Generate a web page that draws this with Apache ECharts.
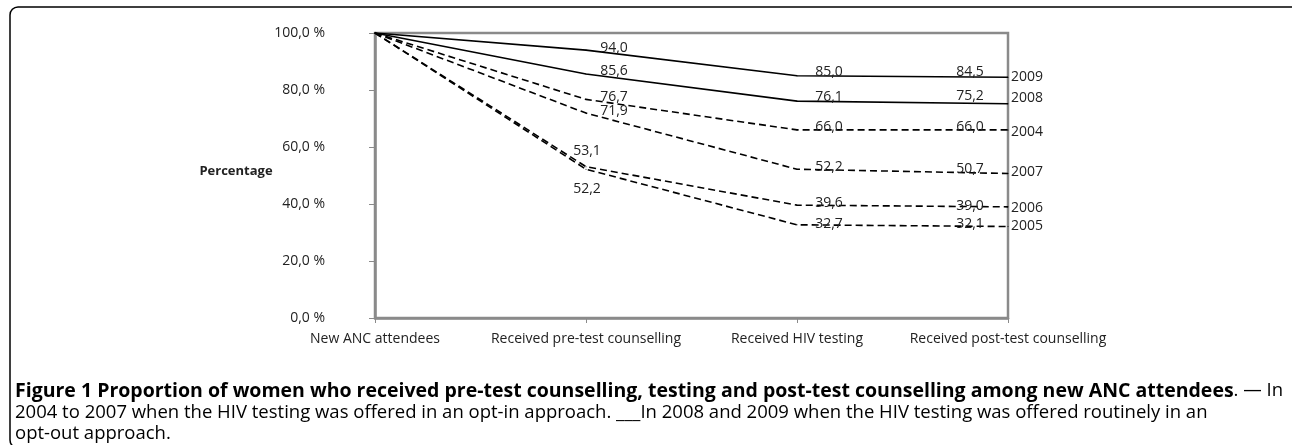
<!DOCTYPE html>
<html>
<head>
<meta charset="utf-8">
<script src="https://cdn.jsdelivr.net/npm/echarts@6/dist/echarts.min.js"></script>
<style>
html,body{margin:0;padding:0;background:#fff;}
#main{width:1292px;height:445px;}
</style>
</head>
<body>
<div id="main"></div>
<script>
// categories and values
var categories = ['New ANC attendees', 'Received pre-test counselling', 'Received HIV testing', 'Received post-test counselling'];
var years = ['2009', '2008', '2004', '2007', '2006', '2005'];
var v2009 = [100, 94.0, 85.0, 84.5];
var v2008 = [100, 85.6, 76.1, 75.2];
var v2004 = [100, 76.7, 66.0, 66.0];
var v2007 = [100, 71.9, 52.2, 50.7];
var v2006 = [100, 53.1, 39.6, 39.0];
var v2005 = [100, 52.2, 32.7, 32.1];
var yTicks = [0, 20, 40, 60, 80, 100];

// where the value labels sit relative to each point (px)
var labelOffsets = {
	'2009': [null, [28, -2], [32, -4], [-38, -5]],
	'2008': [null, [28, -3], [32, -4], [-38, -8]],
	'2004': [null, [28, -2], [32, -3], [-38, -3]],
	'2007': [null, [28, -2], [32, -2], [-38, -4]],
	'2006': [null, [1, -16], [32, -2], [-38, -1]],
	'2005': [null, [1, 20], [32, -1], [-38, -2]]
};
var endOffsets = {'2009': 0, '2008': -6, '2004': 2, '2007': -1, '2006': 1, '2005': 0};
var seriesValues = {'2009': v2009, '2008': v2008, '2004': v2004, '2007': v2007, '2006': v2006, '2005': v2005};
var solidYears = ['2009', '2008'];

function fmt(v){
	return v.toFixed(1).replace('.', ',');
}

var font = '"Open Sans", "DejaVu Sans", sans-serif';
var series = [];
for (var i = 0; i < years.length; i++){
	var y = years[i];
	var vals = seriesValues[y];
	var data = [];
	for (var j = 0; j < vals.length; j++){
		var off = labelOffsets[y][j];
		if (off == null){
			data.push({value: vals[j], label: {show: false}});
		}else{
			data.push({value: vals[j], label: {show: true, offset: off}});
		}
	}
	series.push({
		name: y,
		type: 'line',
		data: data,
		symbol: 'circle',
		symbolSize: 1,
		showSymbol: true,
		itemStyle: {color: '#000'},
		lineStyle: {
			color: '#000',
			width: 1.6,
			type: solidYears.indexOf(y) >= 0 ? 'solid' : [7, 4]
		},
		label: {
			show: true,
			position: 'inside',
			color: '#222',
			fontFamily: font,
			fontSize: 14,
			formatter: function(p){ return fmt(p.value); }
		},
		endLabel: {
			show: true,
			formatter: '{a}',
			distance: 3,
			offset: [0, endOffsets[y]],
			color: '#222',
			fontFamily: font,
			fontSize: 14
		},
		emphasis: {disabled: true},
		z: 3
	});
}

var myChart = echarts.init(document.getElementById('main'), null, {renderer: 'canvas'});
var option = {
	animation: false,
	grid: {
		left: 375,
		right: 284,
		top: 33,
		bottom: 127,
		show: true,
		borderColor: '#8a8a8a',
		borderWidth: 2.5,
		backgroundColor: 'transparent'
	},
	xAxis: {
		type: 'category',
		data: categories,
		boundaryGap: false,
		axisLine: {lineStyle: {color: '#8a8a8a', width: 2.5}},
		axisTick: {show: true, length: 5, lineStyle: {color: '#8a8a8a'}},
		axisLabel: {
			color: '#222',
			fontFamily: font,
			fontSize: 14,
			margin: 14,
			interval: 0
		},
		splitLine: {show: false}
	},
	yAxis: {
		type: 'value',
		min: yTicks[0],
		max: yTicks[yTicks.length - 1],
		interval: 20,
		axisLine: {show: true, lineStyle: {color: '#8a8a8a', width: 2.5}},
		axisTick: {show: true, length: 6, lineStyle: {color: '#8a8a8a'}},
		axisLabel: {
			color: '#222',
			fontFamily: font,
			fontSize: 14,
			margin: 50,
			formatter: function(v){ return fmt(v) + ' %'; }
		},
		splitLine: {show: false}
	},
	graphic: [
		{
			type: 'rect',
			shape: {x: 10, y: 7, width: 1295, height: 441, r: 8},
			style: {fill: 'none', stroke: '#000', lineWidth: 1.5},
			silent: true
		},
		{
			type: 'text',
			x: 236,
			y: 171,
			style: {
				text: 'Percentage',
				fontFamily: font,
				fontWeight: 'bold',
				fontSize: 13,
				fill: '#222',
				align: 'center',
				verticalAlign: 'middle'
			}
		},
		{
			type: 'text',
			x: 15,
			y: 391,
			style: {
				text: '{b|Figure 1 Proportion of women who received pre-test counselling, testing and post-test counselling among new ANC attendees}{n|. \u2014 In}',
				verticalAlign: 'middle',
				rich: {
					b: {fontFamily: font, fontWeight: 'bold', fontSize: 19.5, fill: '#000'},
					n: {fontFamily: font, fontSize: 18.5, fill: '#000'}
				}
			}
		},
		{
			type: 'text',
			x: 15,
			y: 413,
			style: {
				text: '2004 to 2007 when the HIV testing was offered in an opt-in approach. ___In 2008 and 2009 when the HIV testing was offered routinely in an',
				fontFamily: font,
				fontSize: 18.5,
				fill: '#000',
				verticalAlign: 'middle'
			}
		},
		{
			type: 'text',
			x: 15,
			y: 434,
			style: {
				text: 'opt-out approach.',
				fontFamily: font,
				fontSize: 18.5,
				fill: '#000',
				verticalAlign: 'middle'
			}
		}
	],
	series: series
};
myChart.setOption(option);
</script>
</body>
</html>
